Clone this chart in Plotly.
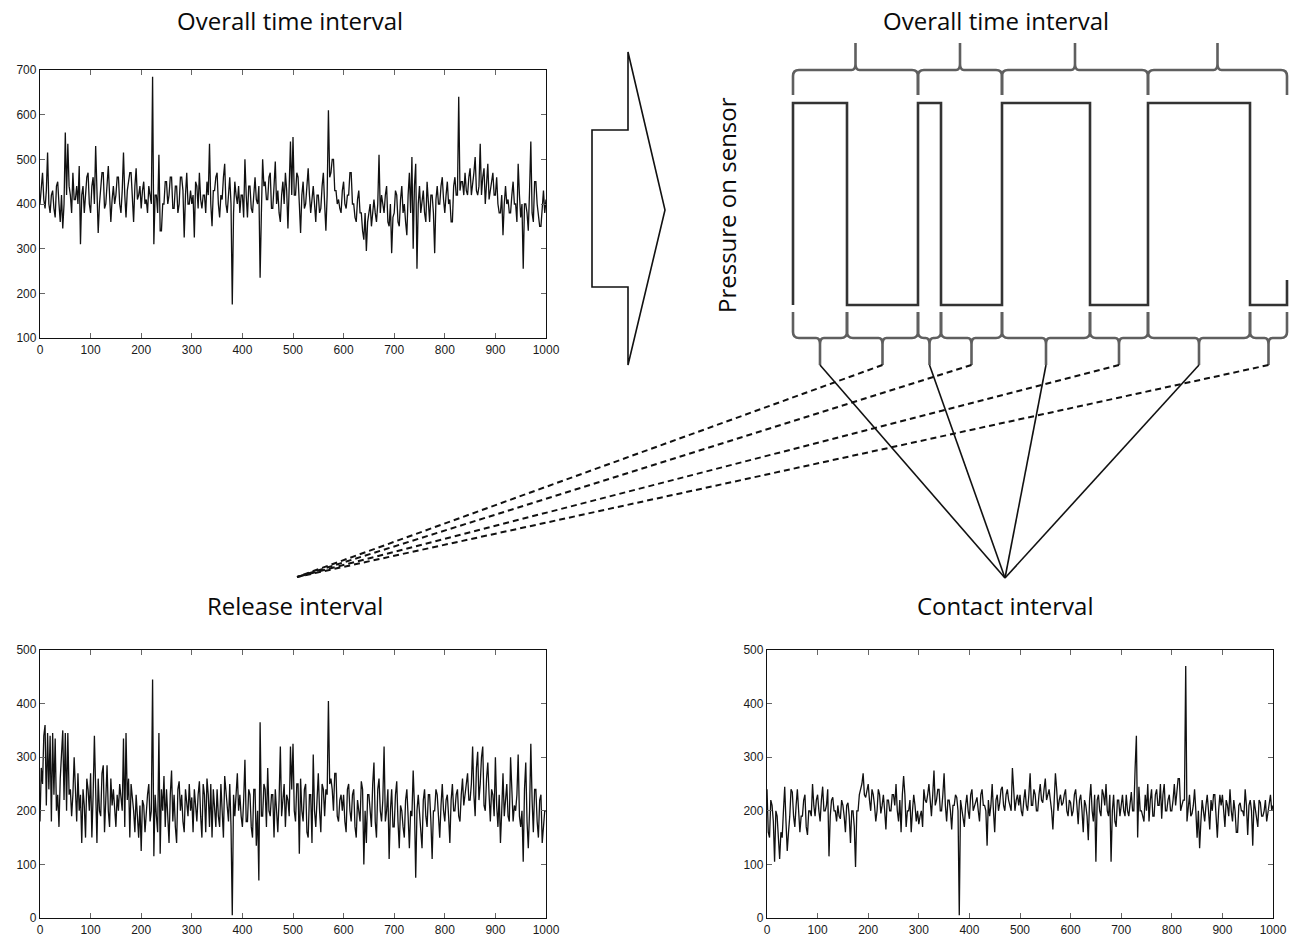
import plotly.graph_objects as go

# ---------------- data ----------------
t = [i * 2.5 for i in range(401)]

overall = [
    400, 440, 470, 410, 390, 430, 515, 400, 380, 420, 430, 390, 370, 440, 450, 400, 360, 420, 345, 400,
    560, 420, 535, 440, 420, 380, 470, 410, 410, 440, 400, 485, 310, 420, 440, 380, 420, 460, 470, 400,
    380, 440, 460, 400, 530, 420, 335, 400, 430, 470, 470, 390, 400, 440, 485, 420, 360, 410, 440, 400,
    420, 460, 460, 400, 380, 430, 515, 420, 370, 430, 450, 470, 470, 420, 360, 440, 480, 410, 420, 440,
    390, 430, 450, 400, 410, 380, 440, 420, 400, 685, 310, 420, 420, 380, 510, 340, 340, 400, 400, 450,
    450, 400, 420, 460, 460, 390, 390, 440, 440, 380, 400, 460, 460, 430, 325, 420, 470, 400, 400, 430,
    400, 420, 325, 450, 440, 390, 470, 410, 390, 420, 420, 380, 450, 420, 535, 400, 350, 430, 430, 460,
    470, 400, 370, 420, 410, 460, 490, 400, 380, 420, 460, 400, 175, 380, 450, 420, 400, 440, 380, 420,
    420, 370, 500, 420, 370, 440, 440, 390, 380, 420, 460, 410, 400, 440, 235, 380, 500, 440, 450, 410,
    410, 460, 470, 390, 390, 440, 495, 400, 430, 380, 360, 420, 450, 400, 470, 430, 345, 440, 540, 420,
    550, 420, 420, 470, 460, 400, 335, 420, 450, 390, 400, 440, 480, 420, 380, 410, 440, 400, 360, 420,
    420, 380, 390, 440, 470, 400, 340, 420, 610, 460, 470, 500, 500, 430, 430, 400, 410, 390, 380, 430,
    450, 400, 390, 420, 420, 470, 470, 400, 400, 370, 360, 410, 430, 380, 380, 340, 320, 380, 295, 360,
    380, 400, 350, 390, 410, 380, 360, 400, 510, 380, 420, 400, 380, 420, 440, 360, 350, 400, 290, 370,
    380, 430, 420, 360, 350, 410, 440, 380, 400, 360, 330, 420, 470, 380, 505, 300, 440, 490, 255, 400,
    440, 380, 400, 430, 380, 360, 450, 400, 360, 420, 420, 380, 290, 410, 440, 400, 400, 440, 460, 410,
    380, 420, 450, 400, 410, 360, 360, 440, 460, 420, 420, 640, 430, 450, 450, 420, 470, 430, 420, 460,
    480, 420, 440, 470, 505, 430, 420, 440, 535, 420, 460, 480, 400, 440, 490, 410, 430, 460, 470, 420,
    420, 460, 400, 380, 380, 420, 330, 400, 440, 400, 410, 380, 380, 420, 450, 400, 400, 360, 490, 420,
    370, 400, 255, 400, 400, 380, 340, 430, 540, 380, 360, 450, 450, 400, 380, 350, 350, 400, 430, 380,
    410,
]

release = [
    180, 280, 250, 340, 360, 210, 345, 240, 340, 180, 345, 230, 335, 200, 230, 170, 260, 300, 350, 220,
    345, 200, 345, 230, 240, 190, 230, 300, 250, 180, 270, 200, 230, 140, 240, 210, 150, 260, 240, 200,
    270, 150, 230, 340, 240, 140, 260, 200, 190, 270, 285, 160, 220, 285, 200, 170, 260, 210, 240, 200,
    170, 230, 200, 250, 230, 200, 335, 170, 345, 220, 260, 150, 250, 230, 200, 160, 230, 190, 150, 210,
    125, 220, 210, 160, 200, 230, 250, 180, 200, 445, 115, 230, 190, 160, 345, 120, 240, 200, 265, 170,
    240, 190, 140, 230, 275, 180, 230, 170, 140, 240, 255, 200, 230, 180, 160, 240, 210, 190, 250, 200,
    225, 160, 240, 210, 180, 230, 255, 190, 150, 250, 230, 160, 260, 230, 170, 250, 150, 240, 200, 170,
    240, 190, 170, 250, 200, 150, 265, 230, 200, 180, 250, 170, 5, 230, 190, 240, 270, 200, 230, 190,
    170, 220, 295, 180, 180, 240, 230, 170, 150, 240, 240, 135, 200, 70, 365, 190, 190, 250, 240, 170,
    280, 200, 190, 230, 230, 150, 240, 200, 160, 220, 320, 190, 220, 250, 170, 230, 220, 190, 320, 240,
    325, 200, 180, 250, 250, 120, 260, 200, 180, 240, 250, 160, 150, 230, 230, 140, 305, 200, 170, 240,
    270, 200, 160, 250, 240, 190, 240, 230, 405, 250, 260, 240, 200, 270, 270, 190, 180, 220, 230, 200,
    230, 180, 160, 240, 250, 200, 180, 230, 240, 170, 150, 220, 200, 180, 255, 240, 100, 200, 140, 230,
    230, 190, 170, 250, 290, 180, 150, 240, 260, 200, 180, 220, 320, 180, 200, 240, 110, 200, 240, 170,
    170, 230, 255, 180, 130, 210, 200, 170, 150, 220, 240, 190, 130, 200, 190, 275, 210, 75, 200, 230,
    200, 160, 130, 220, 240, 190, 170, 230, 230, 180, 110, 200, 200, 240, 230, 190, 150, 210, 250, 200,
    180, 220, 230, 190, 140, 220, 250, 200, 200, 230, 240, 190, 180, 230, 260, 210, 230, 240, 270, 220,
    220, 250, 320, 230, 190, 280, 310, 220, 250, 300, 320, 210, 200, 260, 290, 230, 180, 240, 230, 190,
    300, 210, 170, 230, 140, 200, 270, 190, 220, 250, 190, 180, 300, 220, 180, 210, 200, 230, 305, 190,
    170, 200, 105, 240, 290, 180, 130, 200, 325, 220, 160, 240, 240, 180, 150, 220, 230, 140, 170, 200,
    200,
]

contact = [
    240, 160, 150, 220, 210, 180, 105, 200, 190, 140, 110, 160, 150, 200, 245, 180, 125, 160, 190, 240,
    235, 190, 170, 210, 240, 200, 160, 190, 190, 220, 230, 170, 155, 200, 200, 190, 250, 210, 190, 220,
    230, 200, 180, 220, 245, 200, 200, 210, 240, 115, 190, 220, 225, 200, 200, 180, 210, 190, 185, 220,
    210, 190, 160, 210, 215, 190, 140, 200, 200, 170, 95, 200, 200, 230, 240, 250, 270, 230, 225, 240,
    250, 220, 200, 240, 230, 210, 180, 200, 240, 230, 195, 210, 230, 200, 165, 220, 220, 200, 200, 230,
    230, 210, 250, 200, 180, 220, 160, 230, 265, 230, 170, 200, 200, 220, 160, 200, 230, 210, 180, 200,
    175, 190, 200, 170, 240, 220, 215, 230, 250, 220, 190, 230, 275, 210, 220, 240, 240, 200, 200, 230,
    270, 210, 180, 220, 220, 200, 165, 210, 210, 230, 225, 200, 5, 220, 200, 190, 170, 210, 230, 200,
    185, 230, 240, 200, 210, 220, 225, 200, 180, 230, 240, 210, 210, 200, 135, 220, 190, 210, 250, 200,
    160, 220, 230, 200, 215, 240, 245, 210, 200, 230, 240, 220, 210, 200, 280, 230, 200, 220, 230, 210,
    230, 200, 190, 220, 240, 210, 200, 230, 270, 210, 210, 240, 230, 200, 200, 230, 250, 220, 215, 240,
    260, 220, 230, 240, 220, 200, 165, 230, 270, 240, 200, 220, 230, 210, 215, 230, 240, 200, 190, 220,
    215, 190, 200, 230, 240, 210, 175, 220, 230, 200, 160, 220, 210, 190, 145, 220, 250, 200, 180, 230,
    105, 220, 230, 200, 190, 240, 230, 210, 250, 200, 190, 230, 105, 200, 230, 180, 170, 220, 220, 190,
    210, 230, 200, 190, 230, 200, 190, 220, 235, 200, 200, 280, 340, 150, 245, 200, 200, 190, 180, 230,
    200, 250, 180, 220, 240, 190, 190, 230, 240, 210, 210, 250, 185, 230, 250, 200, 200, 220, 230, 200,
    200, 220, 250, 210, 230, 260, 260, 200, 210, 220, 220, 470, 180, 200, 230, 190, 195, 210, 240, 200,
    150, 200, 130, 180, 220, 200, 180, 210, 230, 200, 165, 220, 200, 230, 230, 190, 150, 200, 230, 210,
    230, 200, 170, 220, 210, 190, 240, 200, 180, 220, 200, 160, 160, 210, 215, 200, 200, 190, 240, 210,
    155, 210, 220, 200, 135, 220, 200, 180, 170, 220, 215, 190, 190, 200, 220, 180, 200, 210, 230, 200,
    210,
]

x_ticks = list(range(0, 1001, 100))
y_ticks_overall = list(range(100, 701, 100))
y_ticks_split = list(range(0, 501, 100))

# schematic pulse timing (diagram units = page pixels)
pulse_edges = [793, 847, 918, 941, 1002, 1090, 1148, 1250, 1287]
level_high, level_low, level_end = 103, 305, 280

titles = ["Overall time interval", "Overall time interval", "Release interval", "Contact interval"]

# ---------------- figure ----------------
W, H = 1299, 943
fig = go.Figure()

sig_line = dict(color="#111111", width=1.3)
fig.add_trace(go.Scatter(x=t, y=overall, mode="lines", line=sig_line, xaxis="x", yaxis="y",
                         showlegend=False, hoverinfo="skip"))
fig.add_trace(go.Scatter(x=t, y=release, mode="lines", line=sig_line, xaxis="x2", yaxis="y2",
                         showlegend=False, hoverinfo="skip"))
fig.add_trace(go.Scatter(x=t, y=contact, mode="lines", line=sig_line, xaxis="x3", yaxis="y3",
                         showlegend=False, hoverinfo="skip"))

# square wave
wx, wy = [pulse_edges[0]], [level_low]
for i in range(len(pulse_edges) - 1):
    lvl = level_high if i % 2 == 0 else level_low
    wx += [pulse_edges[i], pulse_edges[i + 1]]
    wy += [lvl, lvl]
wx.append(pulse_edges[-1]); wy.append(level_end)
fig.add_trace(go.Scatter(x=wx, y=wy, mode="lines", line=dict(color="#333333", width=2.6),
                         xaxis="x4", yaxis="y4", showlegend=False, hoverinfo="skip"))

shapes = []
BR = "#5f5f5f"


def brace(x0, x1, y_end, y_bar, y_tip, r=6):
    s = 1 if y_tip < y_bar else -1  # direction of the tip (up: s=1)
    xm = (x0 + x1) / 2
    return (f"M {x0},{y_end} L {x0},{y_bar + s*r} Q {x0},{y_bar} {x0 + r},{y_bar} "
            f"L {xm - 4},{y_bar} Q {xm},{y_bar} {xm},{y_bar - s*6} L {xm},{y_tip} "
            f"M {xm},{y_bar - s*6} Q {xm},{y_bar} {xm + 4},{y_bar} "
            f"L {x1 - r},{y_bar} Q {x1},{y_bar} {x1},{y_bar + s*r} L {x1},{y_end}")


periods = pulse_edges[0::2]
for a, b in zip(periods[:-1], periods[1:]):
    shapes.append(dict(type="path", xref="x4", yref="y4", path=brace(a, b, 95, 70, 43),
                       line=dict(color=BR, width=2.6)))
for a, b in zip(pulse_edges[:-1], pulse_edges[1:]):
    shapes.append(dict(type="path", xref="x4", yref="y4", path=brace(a, b, 312, 338, 365),
                       line=dict(color=BR, width=2.6)))

contact_focus = (1005, 578)
release_focus = (297, 577)
for i, (a, b) in enumerate(zip(pulse_edges[:-1], pulse_edges[1:])):
    m = (a + b) / 2
    if i % 2 == 0:
        shapes.append(dict(type="line", xref="x4", yref="y4", x0=m, y0=365,
                           x1=contact_focus[0], y1=contact_focus[1],
                           line=dict(color="#111111", width=1.6)))
    else:
        shapes.append(dict(type="line", xref="x4", yref="y4", x0=m, y0=365,
                           x1=release_focus[0], y1=release_focus[1],
                           line=dict(color="#111111", width=2, dash="6px,4px")))

# block arrow
shapes.append(dict(type="path", xref="x4", yref="y4",
                   path="M 628,52 L 628,130 L 592,130 L 592,287 L 628,287 L 628,365 L 665,210 Z",
                   line=dict(color="#111111", width=1.6), fillcolor="rgba(0,0,0,0)"))

title_font = dict(family="Open Sans", size=24, color="#0a0a0a")
annotations = [
    dict(text=titles[0], x=290, y=20, xref="x4", yref="y4", showarrow=False, font=title_font),
    dict(text=titles[1], x=996, y=20, xref="x4", yref="y4", showarrow=False, font=title_font),
    dict(text=titles[2], x=295, y=605, xref="x4", yref="y4", showarrow=False, font=title_font),
    dict(text=titles[3], x=1005, y=605, xref="x4", yref="y4", showarrow=False, font=title_font),
    dict(text="Pressure on sensor", x=726, y=205, xref="x4", yref="y4", showarrow=False,
         textangle=-90, font=title_font),
]

tick_font = dict(family="Liberation Sans", size=12, color="#1a1a1a")
ax_common = dict(showline=True, linecolor="#111111", linewidth=1.3, mirror="ticks",
                 ticks="inside", ticklen=5, tickcolor="#666666", tickwidth=1,
                 showgrid=False, zeroline=False, tickfont=tick_font, fixedrange=True,
                 automargin=False)

fx = lambda p: p / W
fy = lambda p: 1 - p / H

fig.update_layout(
    width=W, height=H, autosize=False, margin=dict(l=0, r=0, t=0, b=0, pad=0),
    paper_bgcolor="white", plot_bgcolor="rgba(0,0,0,0)",
    xaxis=dict(domain=[fx(40), fx(546)], range=[0, 1000], tickvals=x_ticks, anchor="y", **ax_common),
    yaxis=dict(domain=[fy(338), fy(70)], range=[100, 700], tickvals=y_ticks_overall, anchor="x", **ax_common),
    xaxis2=dict(domain=[fx(40), fx(546)], range=[0, 1000], tickvals=x_ticks, anchor="y2", **ax_common),
    yaxis2=dict(domain=[fy(918), fy(650)], range=[0, 500], tickvals=y_ticks_split, anchor="x2", **ax_common),
    xaxis3=dict(domain=[fx(767), fx(1273)], range=[0, 1000], tickvals=x_ticks, anchor="y3", **ax_common),
    yaxis3=dict(domain=[fy(918), fy(650)], range=[0, 500], tickvals=y_ticks_split, anchor="x3", **ax_common),
    xaxis4=dict(domain=[0, 1], range=[0, W], visible=False, anchor="y4", fixedrange=True, automargin=False),
    yaxis4=dict(domain=[0, 1], range=[H, 0], visible=False, anchor="x4", fixedrange=True, automargin=False),
    shapes=shapes, annotations=annotations,
)

fig.write_html("out.html",
               config={"displayModeBar": False},
               post_script="document.body.style.margin='0px';document.body.style.overflow='hidden';")
